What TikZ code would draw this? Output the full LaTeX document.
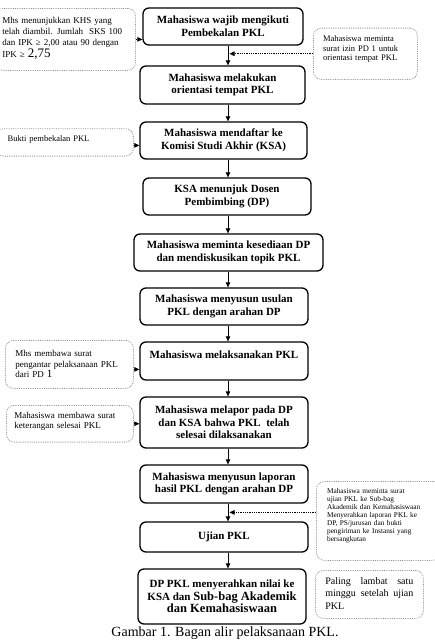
\documentclass[tikz,border=0pt]{standalone}
\usepackage{fontspec}
\setmainfont{Liberation Serif}
\usetikzlibrary{arrows.meta}

\begin{document}
\begin{tikzpicture}[x=1pt,y=-1pt,
  langkah/.style={draw,line width=1.3pt,rounded corners=6pt,align=center,inner sep=0pt,
    font=\bfseries\fontsize{11}{12.7}\selectfont},
  catatan/.style={draw=gray!85,densely dotted,line width=0.8pt,rounded corners=8pt,
    anchor=north west,inner ysep=0pt,align=left},
  panah/.style={line width=0.9pt,-{Triangle[length=5pt,width=4.5pt]}},
  panahket/.style={densely dotted,line width=0.8pt,-{Triangle[length=5pt,width=4.5pt]}},
]
\useasboundingbox (0,0) rectangle (435,640);
\pgfmathsetmacro{\kx}{228}
\coordinate (ax) at (\kx,0);

% langkah utama
\foreach \nm/\cx/\cy/\w/\h/\teks in {
  b1/223/26.5/160/37/{Mahasiswa wajib mengikuti\\Pembekalan PKL},
  b2/222.5/85/165/38/{Mahasiswa melakukan\\orientasi tempat PKL},
  b3/223.5/140.5/167/37/{Mahasiswa mendaftar ke\\Komisi Studi Akhir (KSA)},
  b4/227/196.5/168/37/{KSA menunjuk Dosen\\Pembimbing (DP)},
  b5/228.5/252.5/189/37/{Mahasiswa meminta kesediaan DP\\dan mendiskusikan topik PKL},
  b6/224/306.5/168/37/{Mahasiswa menyusun usulan\\PKL dengan arahan DP},
  b7/224/361/168/38/{Mahasiswa melaksanakan PKL\\\mbox{}},
  b8/224/422.5/168/51/{Mahasiswa melapor pada DP\\dan KSA bahwa PKL\ \ telah\\selesai dilaksanakan},
  b9/224/484/168/38/{Mahasiswa menyusun laporan\\hasil PKL dengan arahan DP},
  b10/224/537/168/30/{Ujian PKL}}{
  \node[langkah,minimum width=\w pt,minimum height=\h pt] (\nm) at (\cx,\cy) {\teks};
}
\node[langkah,minimum width=168pt,minimum height=55pt] (b11) at (222,596.5)
  {DP PKL menyerahkan nilai ke\\KSA dan {\fontsize{12.5}{13}\selectfont Sub-bag Akademik}\\
   {\fontsize{12.5}{13}\selectfont dan Kemahasiswaan}};

\foreach \a/\b in {b1/b2,b2/b3,b3/b4,b4/b5,b5/b6,b6/b7,b7/b8,b8/b9,b9/b10,b10/b11}{
  \draw[panah] (\a.south -| ax) -- (\b.north -| ax);
}

% keterangan
\node[catatan,text width=126pt,inner xsep=7pt,text height=14.7pt,text depth=47.3pt,
  font=\fontsize{9}{11.4}\selectfont] (kA) at (-5,8)
  {Mhs menunjukkan KHS yang\\telah diambil. Jumlah\ \ SKS 100\\dan IPK ≥ 2,00 atau 90 dengan\\
   IPK ≥ {\fontsize{13}{11.4}\selectfont 2,75}};
\node[catatan,text width=84.6pt,inner xsep=9.7pt,text height=13.3pt,text depth=38pt,
  font=\fontsize{8.5}{9.7}\selectfont] (kB) at (313,27.7)
  {Mahasiswa meminta\\surat izin PD 1 untuk\\orientasi tempat PKL};
\node[catatan,text width=113.4pt,inner xsep=12.3pt,text height=13pt,text depth=14.4pt,
  font=\fontsize{8.5}{9.7}\selectfont] (kC) at (-5,128.3)
  {Bukti pembekalan PKL};
\node[catatan,text width=108pt,inner xsep=10pt,text height=16.3pt,text depth=31.7pt,
  font=\fontsize{9}{10.5}\selectfont] (kD) at (5,340)
  {Mhs membawa surat\\pengantar pelaksanaan PKL\\dari PD {\fontsize{11}{10.5}\selectfont 1}};
\node[catatan,text width=111pt,inner xsep=8pt,text height=12.9pt,text depth=23.8pt,
  font=\fontsize{9}{10.3}\selectfont] (kE) at (6,405)
  {Mahasiswa membawa surat\\keterangan selesai PKL};
\node[catatan,text width=102.6pt,inner xsep=10.7pt,text height=11.7pt,text depth=67.3pt,
  font=\fontsize{7.3}{8.05}\selectfont] (kF) at (316,481)
  {Mahasiswa meminta surat\\ujian PKL ke Sub-bag\\Akademik dan Kemahasiswaan\\Menyerahkan laporan PKL ke\\
   DP, PS/jurusan dan bukti\\pengiriman ke Instansi yang\\bersangkutan};
\node[catatan,align=justify,text width=88pt,inner xsep=10pt,text height=14pt,text depth=34pt,
  font=\fontsize{10}{12.3}\selectfont] (kG) at (315,570)
  {Paling lambat satu\linebreak minggu setelah ujian\linebreak PKL};

\draw[panahket] (kA.east) -- (kA.east -| b1.west);
\draw[panahket,shorten >=1.5pt] (kB.west) -- (kB.west -| ax);
\draw[panahket] ([yshift=-3pt]kC.east) -- ([yshift=-3pt]kC.east -| b3.west);
\draw[panahket] ([yshift=-5pt]kD.east) -- ([yshift=-5pt]kD.east -| b7.west);
\draw[panahket] (kE.east) -- (kE.east -| b8.west);
\draw[panahket,shorten >=1.5pt] ([yshift=8.5pt]kF.west) -- ([yshift=8.5pt]kF.west -| ax);

\node[anchor=base,font=\fontsize{14}{14}\selectfont] (judul) at (225,636)
  {Gambar 1. Bagan alir pelaksanaan PKL.};
\end{tikzpicture}
\end{document}
